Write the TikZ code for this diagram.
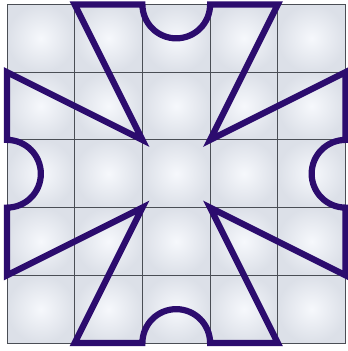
\documentclass[tikz,border=0pt]{standalone}
\begin{document}
\begin{tikzpicture}[x=67.7pt,y=67.7pt,
  cellshade/.style={inner color=cellin, outer color=cellout},
  gridline/.style={draw=gridcol, line width=0.9pt},
  outline/.style={draw=shapecol, line width=6.2pt, line join=miter}]
\definecolor{cellin}{HTML}{F6F8FC}
\definecolor{cellout}{HTML}{DCE0E8}
\definecolor{gridcol}{HTML}{4A4E55}
\definecolor{shapecol}{HTML}{2C0C6E}
\useasboundingbox (-0.1034,-0.1182) rectangle (5.0222,5.0665);
\fill[white] (-0.1034,-0.1182) rectangle (5.0222,5.0665);
\foreach \i in {0,...,4}{
  \foreach \j in {0,...,4}{
    \shade[cellshade] (\i,\j) rectangle ++(1,1);
  }
}
\foreach \k in {0,...,5}{
  \draw[gridline] (\k,0) -- (\k,5);
  \draw[gridline] (0,\k) -- (5,\k);
}
\draw[outline] (1,5) -- (2,5) arc[start angle=180, end angle=360, radius=0.5]
  -- (4,5) -- (3,3) -- (5,4) -- (5,3) arc[start angle=90, end angle=270, radius=0.5]
  -- (5,1) -- (3,2) -- (4,0) -- (3,0) arc[start angle=0, end angle=180, radius=0.5]
  -- (1,0) -- (2,2) -- (0,1) -- (0,2) arc[start angle=-90, end angle=90, radius=0.5]
  -- (0,4) -- (2,3) -- cycle;
\end{tikzpicture}
\end{document}
